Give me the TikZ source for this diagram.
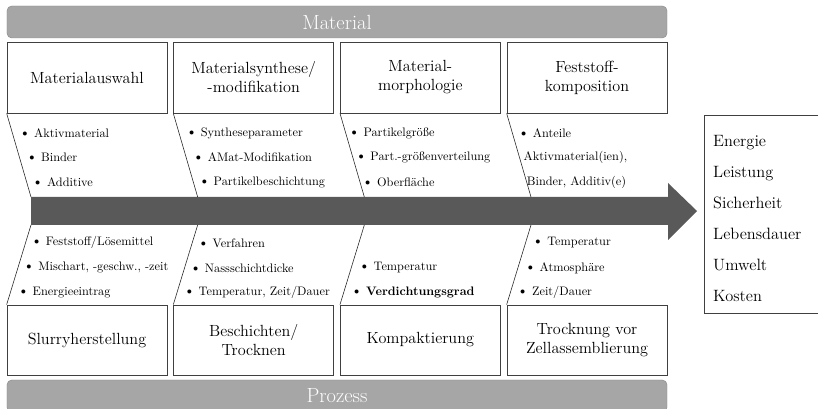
\documentclass[tikz,border=0pt]{standalone}
\usetikzlibrary{positioning,calc}

\definecolor{bargray}{HTML}{A6A6A6}
\definecolor{barline}{HTML}{8C8C8C}
\definecolor{spinegray}{HTML}{595959}

\newcommand{\bul}{{\fontsize{12.5}{12}\selectfont\textbullet}\hspace{0.3em}}

\tikzset{
  catbar/.style={rectangle, rounded corners=4pt, draw=barline, fill=bargray,
    minimum width=19.8cm, minimum height=0.96cm, text=white,
    font=\fontsize{17.5}{20}\selectfont},
  causebox/.style={rectangle, draw=black!75, line width=0.6pt,
    minimum width=4.8cm, align=center, inner sep=0pt,
    font=\fontsize{13.8}{16.2}\selectfont},
  item/.style={anchor=west, inner sep=0pt, font=\fontsize{10.5}{12}\selectfont},
  diag/.style={draw=black!85, line width=0.5pt},
}

\begin{document}
\begin{tikzpicture}
    \useasboundingbox (0,0) rectangle (24.54,12.27);

    % category bars
    \node[catbar] (mat) at (10.11,11.61) {Material};
    \node[catbar] (proz) at (10.11,0.39) {Prozess};

    % spine arrow
    \fill[spinegray] (0.93,5.52) -- (20.04,5.52) -- (20.04,5.07) -- (20.91,5.94)
      -- (20.04,6.78) -- (20.04,6.36) -- (0.93,6.36) -- cycle;

    % material boxes
    \node[causebox, minimum height=2.13cm] (m1) at (2.61,9.945) {Materialauswahl};
    \node[causebox, minimum height=2.13cm] (m2) at (7.61,9.945) {Materialsynthese/\\-modifikation};
    \node[causebox, minimum height=2.13cm] (m3) at (12.61,9.945) {Material-\\morphologie};
    \node[causebox, minimum height=2.13cm] (m4) at (17.61,9.945) {Feststoff-\\komposition};

    % process boxes
    \node[causebox, minimum height=2.1cm] (p1) at (2.61,2.07) {Slurryherstellung};
    \node[causebox, minimum height=2.1cm] (p2) at (7.61,2.07) {Beschichten/\\Trocknen};
    \node[causebox, minimum height=2.1cm] (p3) at (12.61,2.07) {Kompaktierung};
    \node[causebox, minimum height=2.1cm] (p4) at (17.61,2.07) {Trocknung vor\\Zellassemblierung};

    % ends of the bones on the spine
    \coordinate (d1) at (0.93,6.36);
    \coordinate (d2) at (5.93,6.36);
    \coordinate (d3) at (10.93,6.36);
    \coordinate (d4) at (15.93,6.36);
    \coordinate (e1) at (0.93,5.52);
    \coordinate (e2) at (5.93,5.52);
    \coordinate (e3) at (10.93,5.52);
    \coordinate (e4) at (15.93,5.52);

    \draw[diag] (m1.south west) -- (d1);
    \draw[diag] (m2.south west) -- (d2);
    \draw[diag] (m3.south west) -- (d3);
    \draw[diag] (m4.south west) -- (d4);
    \draw[diag] (p1.north west) -- (e1);
    \draw[diag] (p2.north west) -- (e2);
    \draw[diag] (p3.north west) -- (e3);
    \draw[diag] (p4.north west) -- (e4);

    % material influences
    \node[item] (a1) at ($(m1.south west)!0.238!(d1)+(0.2,0)$) {\bul Aktivmaterial};
    \node[item] (a2) at ($(m1.south west)!0.524!(d1)+(0.2,0)$) {\bul Binder};
    \node[item] (a3) at ($(m1.south west)!0.821!(d1)+(0.16,0)$) {\bul Additive};

    \node[item] (b1) at ($(m2.south west)!0.238!(d2)+(0.2,0)$) {\bul Syntheseparameter};
    \node[item] (b2) at ($(m2.south west)!0.524!(d2)+(0.2,0)$) {\bul AMat-Modifikation};
    \node[item] (b3) at ($(m2.south west)!0.821!(d2)+(0.16,0)$) {\bul Partikelbeschichtung};

    \node[item] (c1) at ($(m3.south west)!0.238!(d3)+(0.08,0)$) {\bul Partikelgröße};
    \node[item] (c2) at ($(m3.south west)!0.524!(d3)+(0.08,0)$) {\bul Part.-größenverteilung};
    \node[item] (c3) at ($(m3.south west)!0.821!(d3)+(0.06,0)$) {\bul Oberfläche};

    \node[item] (f1) at ($(m4.south west)!0.238!(d4)+(0.16,0)$) {\bul Anteile};
    \node[item] (f2) at ($(m4.south west)!0.524!(d4)+(0.12,0)$) {Aktivmaterial(ien),};
    \node[item] (f3) at ($(m4.south west)!0.821!(d4)+(0.0,0)$) {Binder, Additiv(e)};

    % process influences
    \node[item] (s1) at ($(p1.north west)!0.775!(e1)+(0.16,0)$) {\bul Feststoff/Lösemittel};
    \node[item] (s2) at ($(p1.north west)!0.4625!(e1)+(0.16,0)$) {\bul Mischart, -geschw., -zeit};
    \node[item] (s3) at ($(p1.north west)!0.15!(e1)+(0.22,0)$) {\bul Energieeintrag};

    \node[item] (t1) at ($(p2.north west)!0.775!(e2)+(0.16,0)$) {\bul Verfahren};
    \node[item] (t2) at ($(p2.north west)!0.4625!(e2)+(0.16,0)$) {\bul Nassschichtdicke};
    \node[item] (t3) at ($(p2.north west)!0.15!(e2)+(0.2,0)$) {\bul Temperatur, Zeit/Dauer};

    \node[item] (k1) at ($(p3.north west)!0.4625!(e3)+(0.22,0)$) {\bul Temperatur};
    \node[item] (k2) at ($(p3.north west)!0.15!(e3)+(0.22,0)$) {\bul \textbf{Verdichtungsgrad}};

    \node[item] (z1) at ($(p4.north west)!0.775!(e4)+(0.2,0)$) {\bul Temperatur};
    \node[item] (z2) at ($(p4.north west)!0.4625!(e4)+(0.2,0)$) {\bul Atmosphäre};
    \node[item] (z3) at ($(p4.north west)!0.15!(e4)+(0.2,0)$) {\bul Zeit/Dauer};

    % targets
    \node[rectangle, draw=black!75, line width=0.6pt, anchor=north west,
      minimum width=3.7cm, minimum height=5.94cm] (ziel) at (21.12,8.82) {};
    \node[anchor=west, align=left, inner sep=0pt,
      font=\fontsize{14}{26.4}\selectfont] (zieltext) at ($(ziel.west)+(0.27,-0.12)$)
      {Energie\\Leistung\\Sicherheit\\Lebensdauer\\Umwelt\\Kosten};

\end{tikzpicture}
\end{document}
